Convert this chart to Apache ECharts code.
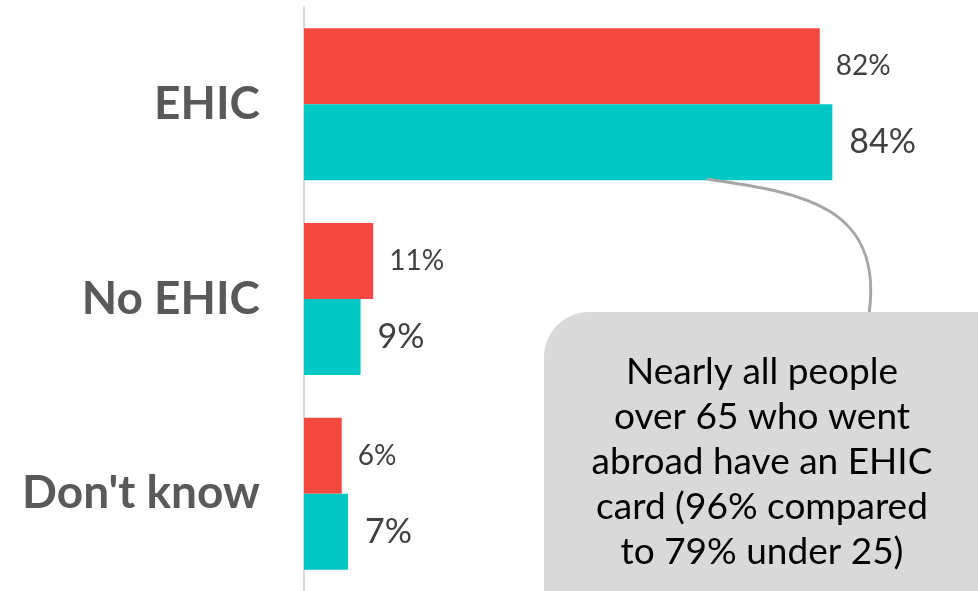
<!DOCTYPE html>
<html>
<head>
<meta charset="utf-8">
<script src="https://cdn.jsdelivr.net/npm/echarts@6/dist/echarts.min.js"></script>
<style>
html,body{margin:0;padding:0;background:#fff;}
#chart{width:978px;height:591px;}
</style>
</head>
<body>
<div id="chart"></div>
<script>
var categories = ['EHIC', 'No EHIC', "Don't know"];
var redValues = [82, 11, 6];
var tealValues = [84, 9, 7];
var calloutLines = ['Nearly all people', 'over 65 who went', 'abroad have an EHIC', 'card (96% compared', 'to 79% under 25)'];

var chart = echarts.init(document.getElementById('chart'));
chart.setOption({
  animation: false,
  grid: { left: 304, top: 7, width: 629, height: 588, containLabel: false },
  xAxis: {
    type: 'value', min: 0, max: 100,
    show: false
  },
  yAxis: {
    type: 'category', data: categories, inverse: true,
    axisLine: { show: true, lineStyle: { color: '#d9d9d9', width: 2 } },
    axisTick: { show: false },
    axisLabel: { color: '#595959', fontFamily: 'Lato', fontWeight: 'bold', fontSize: 46, margin: 44 }
  },
  series: [
    {
      type: 'bar', name: 'Series 1', data: redValues, barWidth: 76, barGap: '0%',
      itemStyle: { color: '#F5493F' },
      label: { show: true, position: 'right', distance: 16, formatter: '{c}%', color: '#404040', fontFamily: 'Lato', fontSize: 28 }
    },
    {
      type: 'bar', name: 'Series 2', data: tealValues, barWidth: 76, barGap: '0%',
      itemStyle: { color: '#00C9C5' },
      label: { show: true, position: 'right', distance: 17, formatter: '{c}%', color: '#404040', fontFamily: 'Lato', fontSize: 34 }
    }
  ],
  graphic: [
    {
      type: 'bezierCurve', z: 10,
      shape: { x1: 707, y1: 179, cpx1: 790, cpy1: 192, cpx2: 885, cpy2: 200, x2: 869, y2: 314 },
      style: { stroke: '#a6a6a6', lineWidth: 3, fill: null }
    },
    {
      type: 'rect', z: 11,
      shape: { x: 544, y: 312, width: 480, height: 330, r: 45 },
      style: { fill: '#d9d9d9' }
    },
    {
      type: 'text', z: 12,
      x: 762, y: 462,
      style: {
        text: calloutLines.join('\n'),
        align: 'center', verticalAlign: 'middle',
        fontFamily: 'Lato', fontSize: 37, lineHeight: 45, fill: '#000'
      }
    }
  ]
});
</script>
</body>
</html>
